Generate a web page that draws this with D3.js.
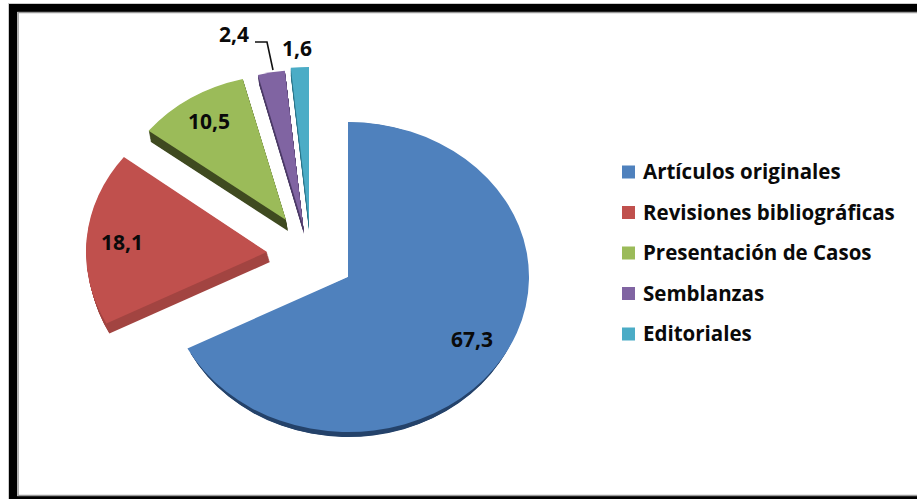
<!DOCTYPE html>
<html>
<head>
<meta charset="utf-8">
<script src="https://cdn.jsdelivr.net/npm/d3@7"></script>
<style>
html, body { margin: 0; padding: 0; background: #fff; }
text { font-family: "Open Sans", Lato, sans-serif; font-weight: 700; fill: #0a0a0a; }
</style>
</head>
<body>
<div class="container"></div>
<script>
var categories = ["Artículos originales", "Revisiones bibliográficas", "Presentación de Casos", "Semblanzas", "Editoriales"];
var values = [67.3, 18.1, 10.5, 2.4, 1.6];
var valueLabels = ["67,3", "18,1", "10,5", "2,4", "1,6"];

var colors = ["#4f81bd", "#c0504d", "#9bbb59", "#8064a2", "#4bacc6"];
var sideColors = ["#24426a", "#a24441", "#3f4a20", "#4b3a66", "#2b7488"];

// how far each slice is pulled out, and the direction its side wall shows
var pullX = [0, -81, -62, -45, -39];
var pullY = [0, -25, -57, -52, -55];
var sideX = [0, 3, 2, 1, 0];
var sideY = [5, 10, 11, 9, 8];
var sizeX = [1, 1, 0.96, 1, 1];
var sizeY = [1, 1, 0.94, 1, 1];
var sideSizeX = [0.98, 1, 0.96, 1, 1];

var w = 917, h = 499;
var cx = 348, cy = 277, rx = 181, ry = 155;

var stage = d3.select(".container").append("svg")
    .attr("width", w)
    .attr("height", h)
    .style("display", "block");

// frame
stage.append("rect").attr("x", 8.5).attr("y", 3.5).attr("width", 930).attr("height", 520)
    .attr("fill", "none").attr("stroke", "#ccc").attr("stroke-width", 1);
stage.append("rect").attr("x", 13).attr("y", 8).attr("width", 930).attr("height", 492)
    .attr("fill", "none").attr("stroke", "#000").attr("stroke-width", 8);
stage.append("rect").attr("x", 18).attr("y", 12.5).attr("width", 930).attr("height", 483)
    .attr("fill", "none").attr("stroke", "#999").attr("stroke-width", 1.5);

var pie = d3.pie().sort(null);
var slices = pie(values);
var arc = d3.arc().innerRadius(0).outerRadius(rx);

function sliceTransform(i, ox, oy, scaleX) {
    return "translate(" + (cx + pullX[i] + ox) + "," + (cy + pullY[i] + oy) + ")" +
        " scale(" + scaleX + "," + (ry / rx * sizeY[i]) + ")";
}

// side wall first, stacked copies going down
var sides = stage.append("g");
slices.forEach(function (d, i) {
    d3.range(1, 13).forEach(function (s) {
        var f = s / 12;
        sides.append("path")
            .attr("d", arc(d))
            .attr("fill", sideColors[i])
            .attr("transform", sliceTransform(i, sideX[i] * f, sideY[i] * f, sideSizeX[i]));
    });
});

stage.append("g").selectAll("path")
    .data(slices)
    .join("path")
    .attr("d", arc)
    .attr("fill", function (d, i) { return colors[i]; })
    .attr("transform", function (d, i) { return sliceTransform(i, 0, 0, sizeX[i]); });

var labelX = [472, 122, 209, 234, 297];
var labelY = [340, 243, 122, 35, 49];
stage.append("g").selectAll("text")
    .data(valueLabels)
    .join("text")
    .attr("x", function (d, i) { return labelX[i]; })
    .attr("y", function (d, i) { return labelY[i]; })
    .attr("dy", "0.35em")
    .attr("text-anchor", "middle")
    .attr("font-size", 21)
    .text(function (d) { return d; });

// leader line for 2,4
stage.append("path")
    .attr("d", d3.line()([[255, 42], [267, 42], [273, 70]]))
    .attr("fill", "none")
    .attr("stroke", "#111")
    .attr("stroke-width", 1.6);

// legend
var legendY = d3.scalePoint().domain(categories).range([172, 334]);
var legend = stage.append("g").selectAll("g")
    .data(categories)
    .join("g")
    .attr("transform", function (d) { return "translate(622," + legendY(d) + ")"; });
legend.append("rect")
    .attr("x", 0).attr("y", -6.5)
    .attr("width", 13).attr("height", 13)
    .attr("fill", function (d, i) { return colors[i]; });
legend.append("text")
    .attr("x", 21)
    .attr("dy", "0.35em")
    .attr("font-size", 20.5)
    .text(function (d) { return d; });
</script>
</body>
</html>
